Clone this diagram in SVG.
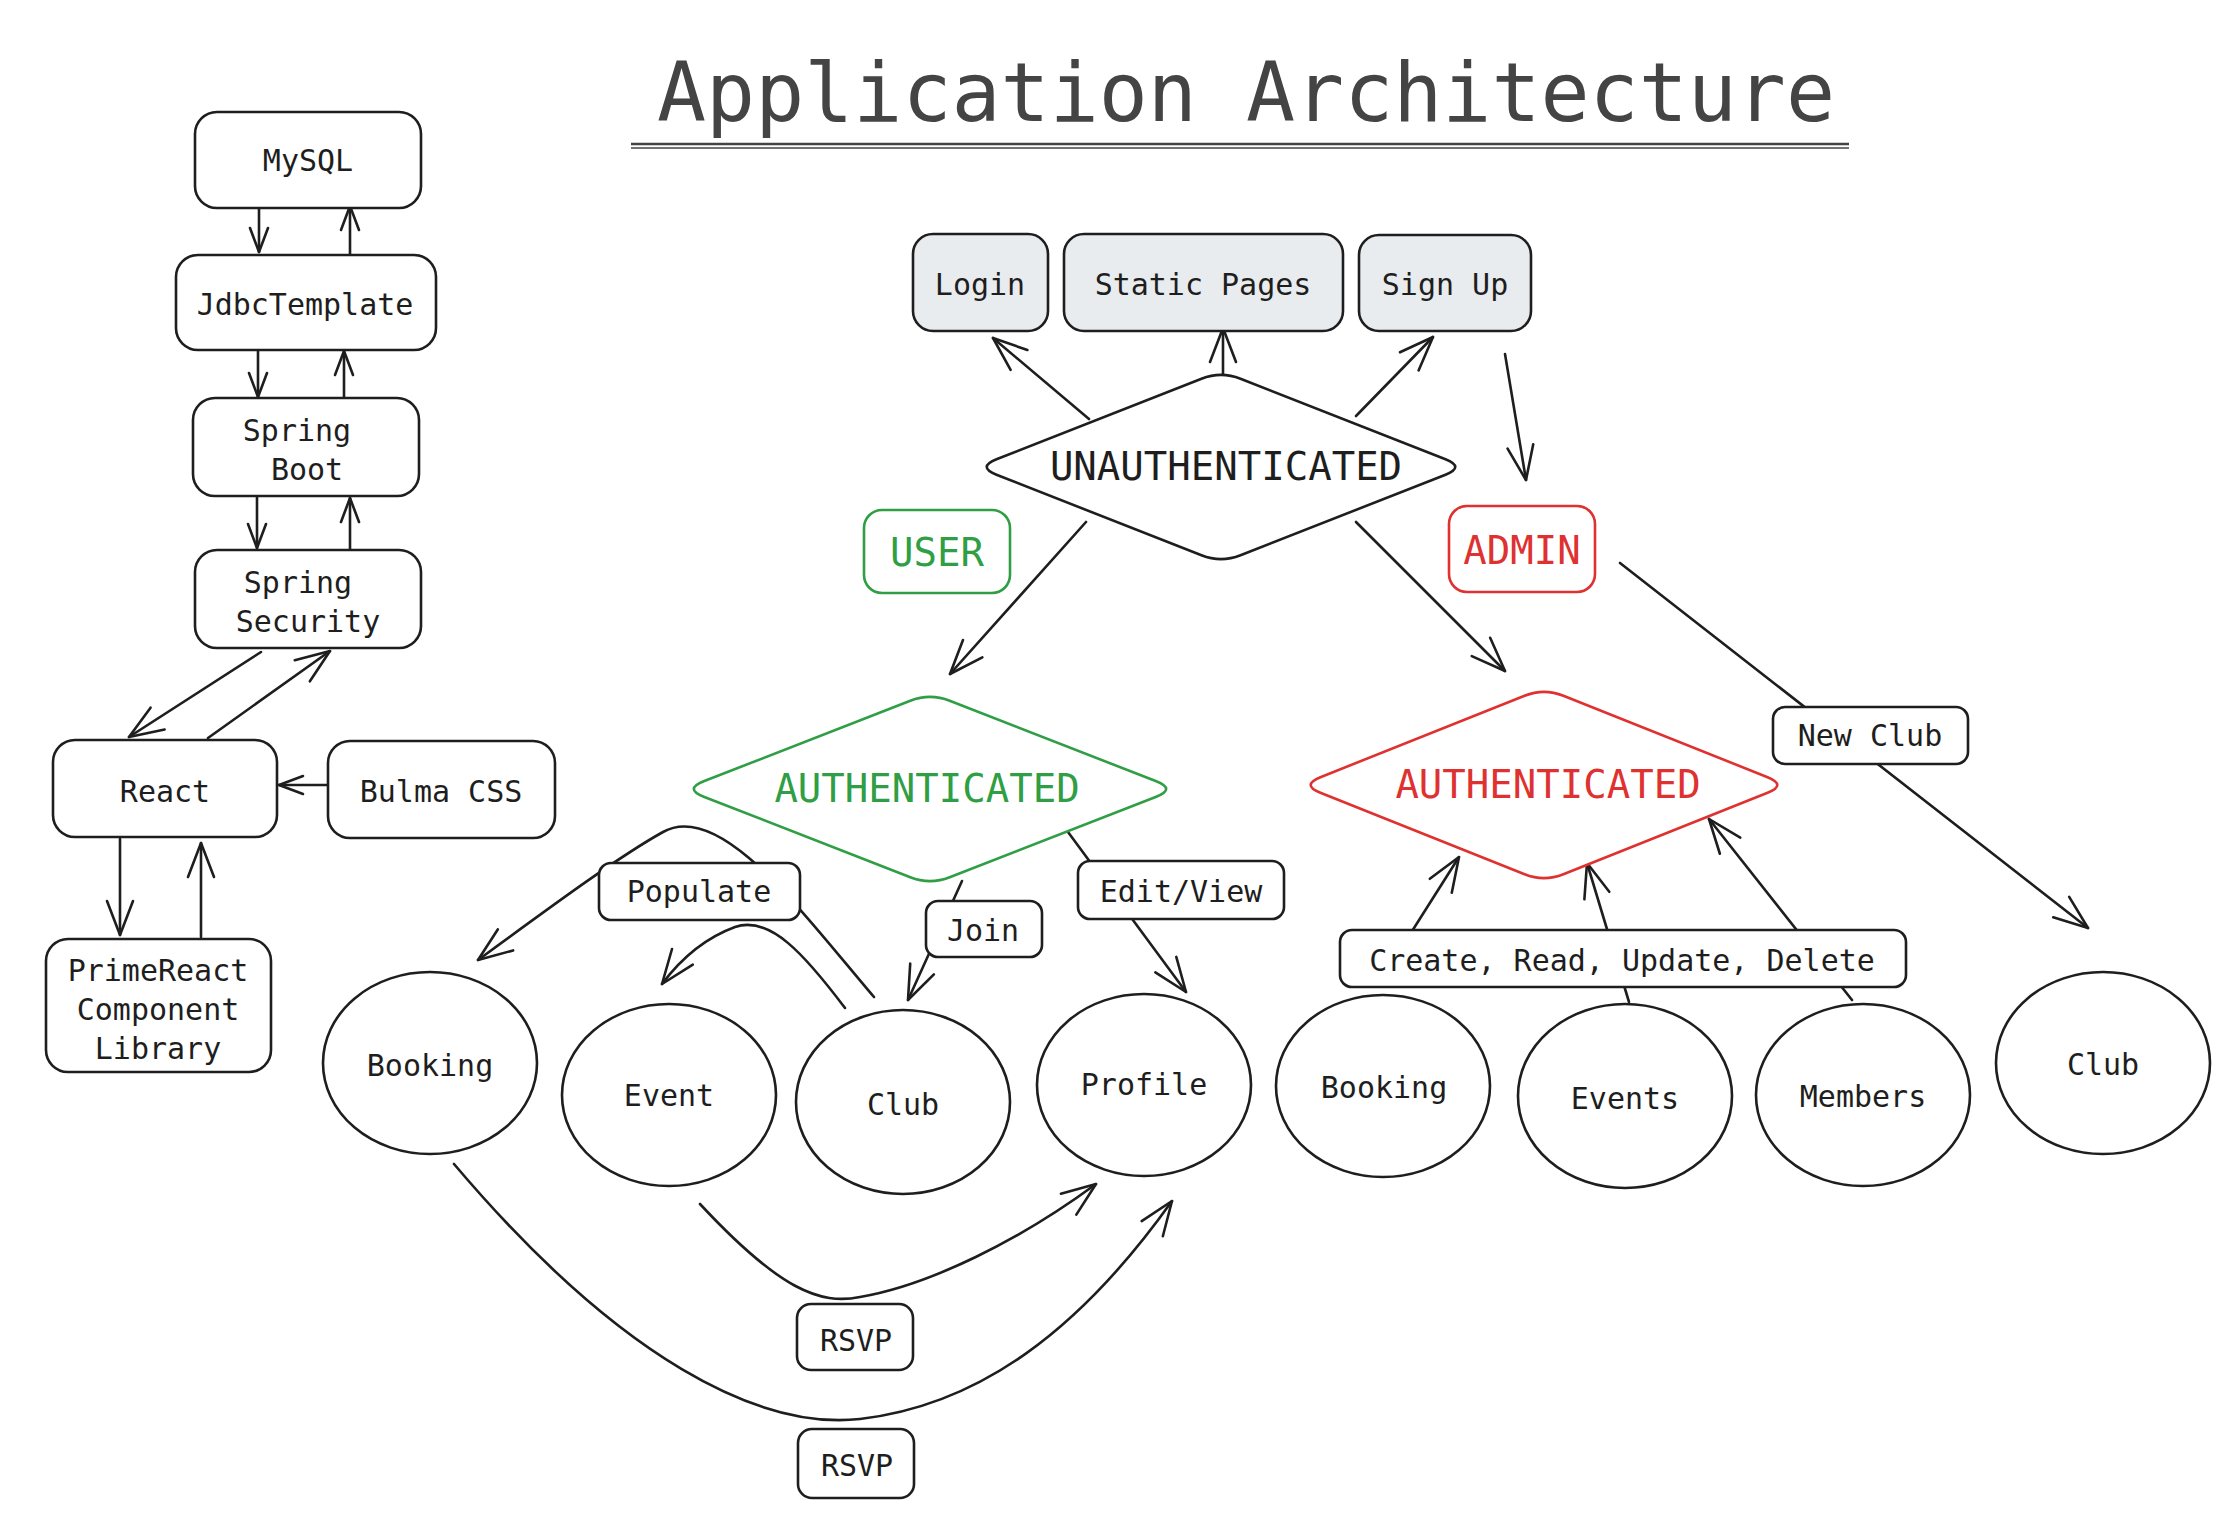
<svg xmlns="http://www.w3.org/2000/svg" width="2236" height="1516" viewBox="0 0 2236 1516">
<defs>
<style>
.t{font-family:"DejaVu Sans Mono","Liberation Mono",monospace;font-size:30px;fill:#1e1e1e;text-anchor:middle;dominant-baseline:central}
.big{font-size:39px}
.g{fill:#2f9e44}
.r{fill:#e03131}
.box{fill:#ffffff;stroke:#1e1e1e;stroke-width:2.6}
.grey{fill:#e9ecef}
.ell{fill:#ffffff;stroke:#1e1e1e;stroke-width:2.6}
.c{fill:none;stroke:#1e1e1e;stroke-width:2.6;stroke-linecap:round}
.cs{fill:none;stroke:#1e1e1e;stroke-width:2.6;stroke-linecap:round;marker-end:url(#ahs)}
.ca{fill:none;stroke:#1e1e1e;stroke-width:2.6;stroke-linecap:round;marker-end:url(#ah)}
</style>
<marker id="ah" markerUnits="userSpaceOnUse" markerWidth="50" markerHeight="40" viewBox="-40 -20 50 40" refX="0" refY="0" orient="auto">
<path d="M -34 -13 L 0 0 L -34 13" fill="none" stroke="#1e1e1e" stroke-width="2.6" stroke-linecap="round" stroke-linejoin="round"/>
</marker>
<marker id="ahs" markerUnits="userSpaceOnUse" markerWidth="40" markerHeight="30" viewBox="-30 -15 40 30" refX="0" refY="0" orient="auto">
<path d="M -24 -9 L 0 0 L -24 9" fill="none" stroke="#1e1e1e" stroke-width="2.6" stroke-linecap="round" stroke-linejoin="round"/>
</marker>
</defs>
<rect x="0" y="0" width="2236" height="1516" fill="#ffffff"/>

<g id="title">
<text x="1246" y="92" class="t" style="font-size:82px;fill:#444444" textLength="1178" lengthAdjust="spacingAndGlyphs">Application Architecture</text>
<line x1="631" y1="144" x2="1849" y2="144" stroke="#444444" stroke-width="2.5"/>
<line x1="631" y1="148" x2="1849" y2="148" stroke="#444444" stroke-width="1.5"/>
</g>

<g id="connectors">
<!-- left stack -->
<line class="cs" x1="259" y1="208" x2="259" y2="252"/>
<line class="cs" x1="350" y1="255" x2="350" y2="206"/>
<line class="cs" x1="258" y1="350" x2="258" y2="397"/>
<line class="cs" x1="344" y1="398" x2="344" y2="351"/>
<line class="cs" x1="257" y1="496" x2="257" y2="548"/>
<line class="cs" x1="350" y1="550" x2="350" y2="498"/>
<line class="ca" x1="261" y1="652" x2="129" y2="737"/>
<line class="ca" x1="208" y1="738" x2="330" y2="651"/>
<line class="cs" x1="327" y1="785" x2="279" y2="785"/>
<line class="ca" x1="120" y1="839" x2="120" y2="935"/>
<line class="ca" x1="201" y1="937" x2="201" y2="843"/>
<!-- unauthenticated -->
<line class="ca" x1="1089" y1="419" x2="993" y2="338"/>
<line class="ca" x1="1223" y1="376" x2="1223" y2="328"/>
<line class="ca" x1="1356" y1="416" x2="1433" y2="337"/>
<line class="ca" x1="1505" y1="354" x2="1526" y2="480"/>
<line class="ca" x1="1086" y1="522" x2="950" y2="674"/>
<line class="ca" x1="1356" y1="522" x2="1505" y2="671"/>
<!-- user side -->
<path class="ca" d="M 874 997 C 800 910, 720 800, 663 832 C 620 856, 560 900, 478 960"/>
<path class="ca" d="M 845 1008 C 805 955, 770 915, 735 927 C 705 938, 680 960, 662 984"/>
<line class="ca" x1="962" y1="881" x2="908" y2="1000"/>
<line class="ca" x1="1068" y1="832" x2="1186" y2="992"/>
<path class="ca" d="M 700 1204 C 780 1290, 820 1305, 860 1297 C 930 1285, 1020 1240, 1096 1184"/>
<path class="ca" d="M 454 1164 C 620 1360, 760 1430, 860 1419 C 980 1405, 1080 1330, 1172 1201"/>
<!-- admin side -->
<line class="ca" x1="1395" y1="958" x2="1459" y2="857"/>
<line class="ca" x1="1629" y1="1002" x2="1587" y2="863"/>
<line class="ca" x1="1852" y1="1000" x2="1709" y2="819"/>
<line class="ca" x1="1620" y1="563" x2="2088" y2="928"/>
</g>

<g id="mysql">
<rect class="box" x="195" y="112" width="226" height="96" rx="22"/>
<text class="t" x="308" y="160">MySQL</text>
</g>
<g id="jdbctemplate">
<rect class="box" x="176" y="255" width="260" height="95" rx="22"/>
<text class="t" x="305" y="304">JdbcTemplate</text>
</g>
<g id="spring-boot">
<rect class="box" x="193" y="398" width="226" height="98" rx="22"/>
<text class="t" x="297" y="430">Spring</text>
<text class="t" x="307" y="469">Boot</text>
</g>
<g id="spring-security">
<rect class="box" x="195" y="550" width="226" height="98" rx="22"/>
<text class="t" x="298" y="582">Spring</text>
<text class="t" x="308" y="621">Security</text>
</g>
<g id="react">
<rect class="box" x="53" y="740" width="224" height="97" rx="22"/>
<text class="t" x="165" y="791">React</text>
</g>
<g id="bulma-css">
<rect class="box" x="328" y="741" width="227" height="97" rx="22"/>
<text class="t" x="441" y="791">Bulma CSS</text>
</g>
<g id="primereact">
<rect class="box" x="46" y="939" width="225" height="133" rx="22"/>
<text class="t" x="158" y="970">PrimeReact</text>
<text class="t" x="158" y="1009">Component</text>
<text class="t" x="158" y="1048">Library</text>
</g>

<g id="login">
<rect class="box grey" x="913" y="234" width="135" height="97" rx="20"/>
<text class="t" x="980" y="284">Login</text>
</g>
<g id="static-pages">
<rect class="box grey" x="1064" y="234" width="279" height="97" rx="20"/>
<text class="t" x="1203" y="284">Static Pages</text>
</g>
<g id="sign-up">
<rect class="box grey" x="1359" y="235" width="172" height="96" rx="20"/>
<text class="t" x="1445" y="284">Sign Up</text>
</g>

<g id="unauthenticated">
<path class="box" d="M 1240.5 378.7 L 1445.5 459.3 Q 1465 467 1445.5 474.7 L 1240.5 555.3 Q 1221 563 1201.5 555.3 L 996.5 474.7 Q 977 467 996.5 459.3 L 1201.5 378.7 Q 1221 371 1240.5 378.7 Z"/>
<text class="t big" x="1226" y="466">UNAUTHENTICATED</text>
</g>
<g id="user">
<rect x="864" y="510" width="146" height="83" rx="18" fill="#ffffff" stroke="#2f9e44" stroke-width="2.6"/>
<text class="t big g" x="937" y="552">USER</text>
</g>
<g id="admin">
<rect x="1449" y="506" width="146" height="86" rx="18" fill="#ffffff" stroke="#e03131" stroke-width="2.6"/>
<text class="t big r" x="1522" y="550">ADMIN</text>
</g>
<g id="user-authenticated">
<path fill="#ffffff" stroke="#2f9e44" stroke-width="2.6" d="M 949.7 700.7 L 1156.3 781.3 Q 1176 789 1156.3 796.7 L 949.7 877.3 Q 930 885 910.3 877.3 L 703.7 796.7 Q 684 789 703.7 781.3 L 910.3 700.7 Q 930 693 949.7 700.7 Z"/>
<text class="t big g" x="927" y="788">AUTHENTICATED</text>
</g>
<g id="admin-authenticated">
<path fill="#ffffff" stroke="#e03131" stroke-width="2.6" d="M 1563.4 695.8 L 1767.6 777.2 Q 1787 785 1767.6 792.8 L 1563.4 874.2 Q 1544 882 1524.6 874.2 L 1320.4 792.8 Q 1301 785 1320.4 777.2 L 1524.6 695.8 Q 1544 688 1563.4 695.8 Z"/>
<text class="t big r" x="1548" y="784">AUTHENTICATED</text>
</g>

<g id="user-booking">
<ellipse class="ell" cx="430" cy="1063" rx="107" ry="91"/>
<text class="t" x="430" y="1065">Booking</text>
</g>
<g id="user-event">
<ellipse class="ell" cx="669" cy="1095" rx="107" ry="91"/>
<text class="t" x="669" y="1095">Event</text>
</g>
<g id="user-club">
<ellipse class="ell" cx="903" cy="1102" rx="107" ry="92"/>
<text class="t" x="903" y="1104">Club</text>
</g>
<g id="user-profile">
<ellipse class="ell" cx="1144" cy="1085" rx="107" ry="91"/>
<text class="t" x="1144" y="1084">Profile</text>
</g>
<g id="admin-booking">
<ellipse class="ell" cx="1383" cy="1086" rx="107" ry="91"/>
<text class="t" x="1384" y="1087">Booking</text>
</g>
<g id="admin-events">
<ellipse class="ell" cx="1625" cy="1096" rx="107" ry="92"/>
<text class="t" x="1625" y="1098">Events</text>
</g>
<g id="admin-members">
<ellipse class="ell" cx="1863" cy="1095" rx="107" ry="91"/>
<text class="t" x="1863" y="1096">Members</text>
</g>
<g id="admin-club">
<ellipse class="ell" cx="2103" cy="1063" rx="107" ry="91"/>
<text class="t" x="2103" y="1064">Club</text>
</g>

<g id="label-populate">
<rect class="box" x="599" y="863" width="201" height="57" rx="12"/>
<text class="t" x="699" y="891">Populate</text>
</g>
<g id="label-join">
<rect class="box" x="926" y="901" width="116" height="56" rx="12"/>
<text class="t" x="983" y="930">Join</text>
</g>
<g id="label-edit-view">
<rect class="box" x="1078" y="861" width="206" height="58" rx="12"/>
<text class="t" x="1181" y="891">Edit/View</text>
</g>
<g id="label-rsvp-1">
<rect class="box" x="797" y="1304" width="116" height="66" rx="14"/>
<text class="t" x="856" y="1340">RSVP</text>
</g>
<g id="label-rsvp-2">
<rect class="box" x="798" y="1429" width="116" height="69" rx="14"/>
<text class="t" x="857" y="1465">RSVP</text>
</g>
<g id="label-crud">
<rect class="box" x="1340" y="930" width="566" height="57" rx="12"/>
<text class="t" x="1622" y="960">Create, Read, Update, Delete</text>
</g>
<g id="label-new-club">
<rect class="box" x="1773" y="707" width="195" height="57" rx="12"/>
<text class="t" x="1870" y="735">New Club</text>
</g>
</svg>
